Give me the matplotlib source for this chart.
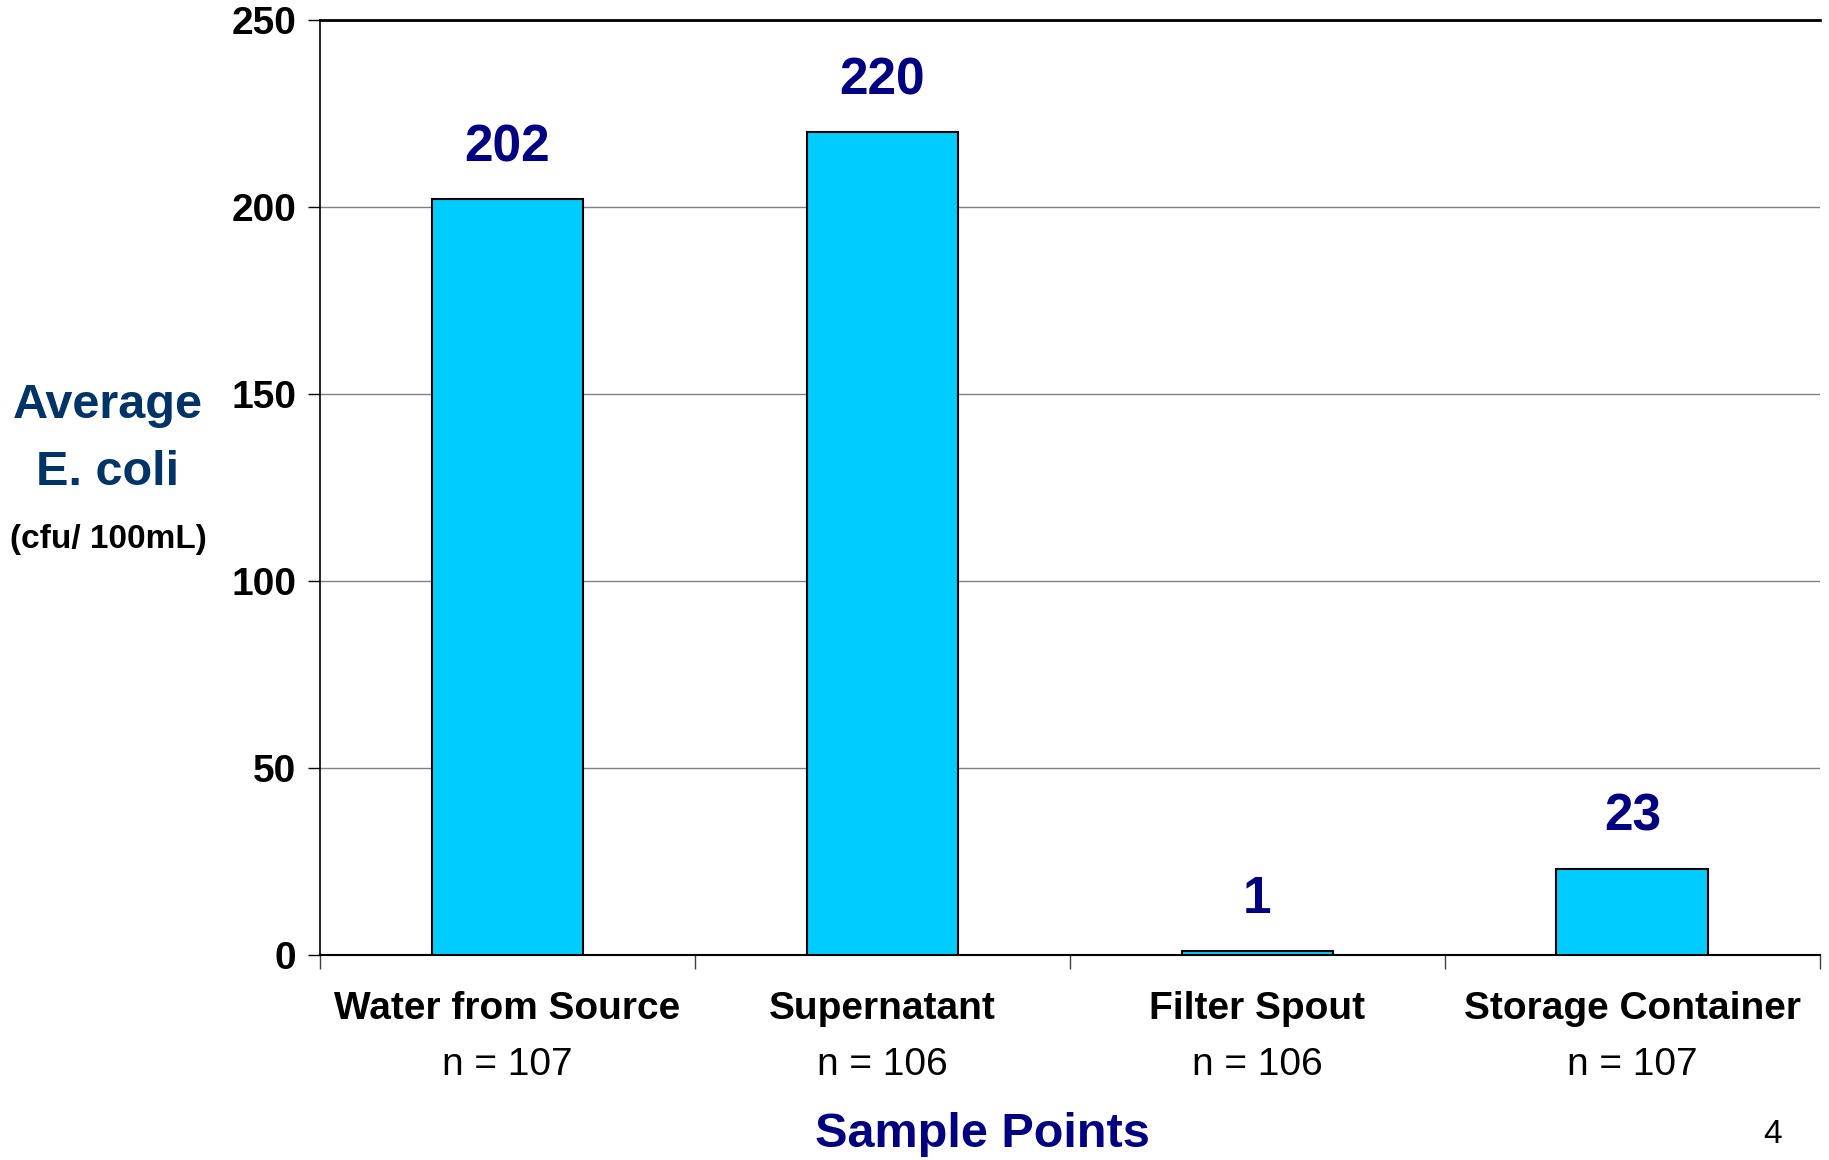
import matplotlib.pyplot as plt
from matplotlib.transforms import blended_transform_factory

# data
categories = ['Water from Source', 'Supernatant', 'Filter Spout', 'Storage Container']
n_labels = ['n = 107', 'n = 106', 'n = 106', 'n = 107']
ecoli = [202, 220, 1, 23]
yticks = [0, 50, 100, 150, 200, 250]

plt.rcParams['font.family'] = ['Liberation Sans', 'DejaVu Sans']

fig = plt.figure(figsize=(18.29, 11.6), dpi=100)
ax = fig.add_axes([0.175, 0.177, 0.82, 0.806])

x = list(range(len(categories)))
ax.bar(x, ecoli, width=0.405, color='#00CCFF', edgecolor='black', linewidth=1.5, zorder=3)

# value labels above bars
for xi, v in zip(x, ecoli):
    ax.annotate(str(v), (xi, v), xytext=(0, 37), textcoords='offset points',
                ha='center', va='center', fontsize=37, fontweight='bold', color='#000080')

ax.set_xlim(-0.5, 3.5)
ax.set_ylim(0, 250)
ax.set_yticks(yticks)
ax.set_yticklabels([str(t) for t in yticks], fontsize=28, fontweight='bold')
ax.set_xticks([-0.5, 0.5, 1.5, 2.5, 3.5])
ax.set_xticklabels([])
ax.tick_params(axis='x', direction='out', length=10, width=1, color='#404040')
ax.tick_params(axis='y', direction='out', length=9, width=1, pad=8)
ax.yaxis.grid(True, color='#808080', linewidth=1)
ax.set_axisbelow(True)
ax.spines['right'].set_visible(False)
ax.spines['top'].set_linewidth(2)
ax.spines['left'].set_linewidth(1.2)
ax.spines['bottom'].set_linewidth(1.5)

# category names + sample counts
tr = blended_transform_factory(ax.transData, ax.transAxes)
for xi, c, n in zip(x, categories, n_labels):
    ax.text(xi, -0.058, c, transform=tr, ha='center', va='center', fontsize=28, fontweight='bold')
    ax.text(xi, -0.118, n, transform=tr, ha='center', va='center', fontsize=28)

fig.text(0.059, 0.650, 'Average', ha='center', va='center', fontsize=35, fontweight='bold', color='#003366')
fig.text(0.059, 0.593, 'E. coli', ha='center', va='center', fontsize=35, fontweight='bold', color='#003366')
fig.text(0.059, 0.535, '(cfu/ 100mL)', ha='center', va='center', fontsize=24, fontweight='bold')

fig.text(0.537, 0.022, 'Sample Points', ha='center', va='center', fontsize=35, fontweight='bold', color='#000080')
fig.text(0.969, 0.022, '4', ha='center', va='center', fontsize=24)

fig.savefig('out.png', dpi=100)
